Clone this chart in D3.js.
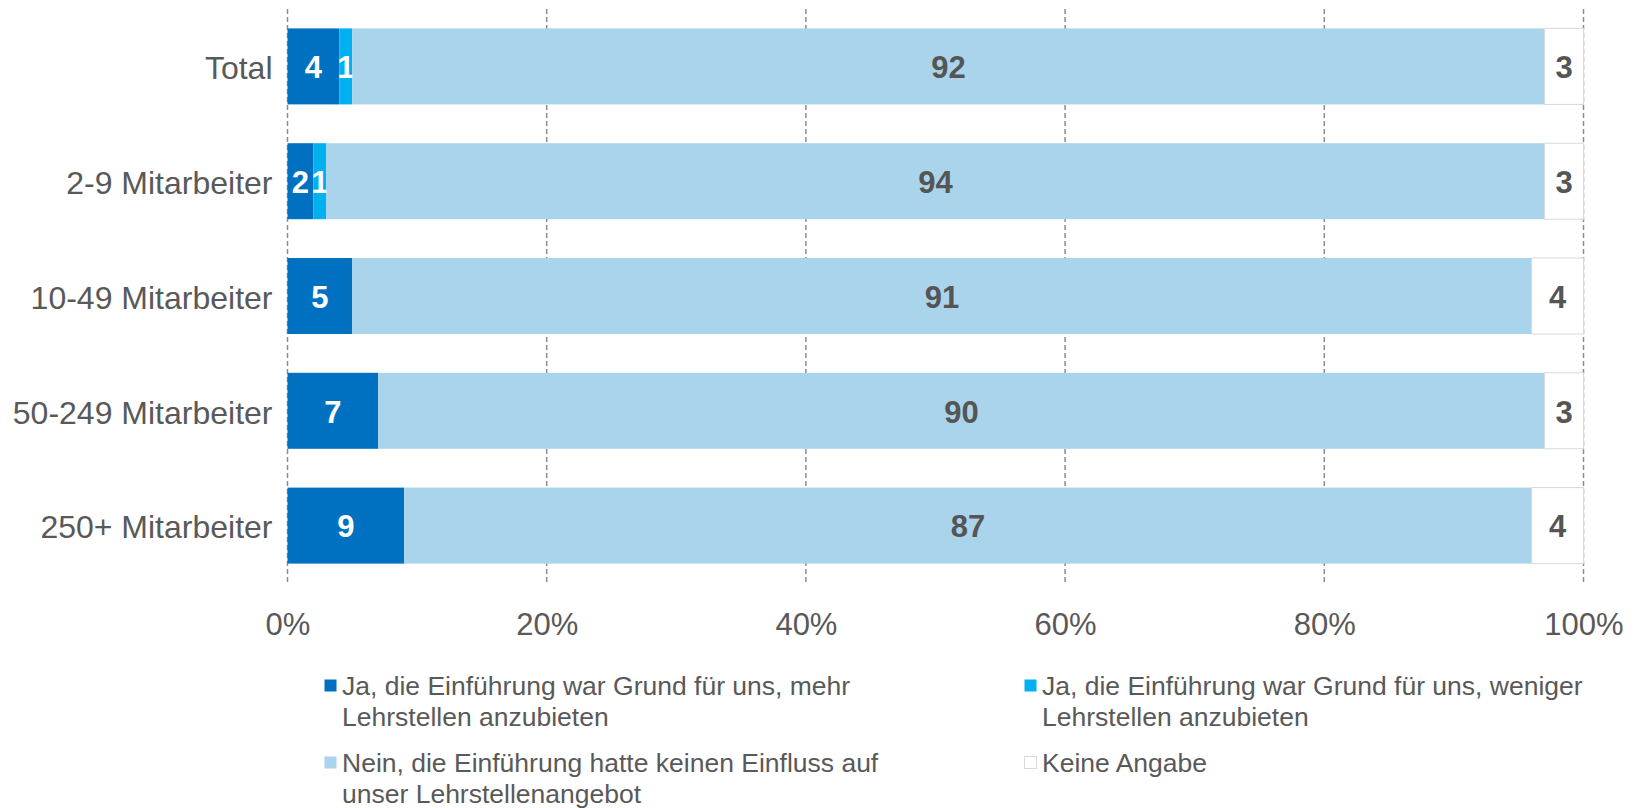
<!DOCTYPE html>
<html>
<head>
<meta charset="utf-8">
<script src="https://cdn.jsdelivr.net/npm/d3@7"></script>
<style>
  body { margin: 0; background: #fff; }
  svg { display: block; font-family: "Liberation Sans", Arial, sans-serif; }
</style>
</head>
<body>
<svg id="chart" width="1637" height="808"></svg>
<script>
var categories = ["Total", "2-9 Mitarbeiter", "10-49 Mitarbeiter", "50-249 Mitarbeiter", "250+ Mitarbeiter"];
var mehr    = [4, 2, 5, 7, 9];
var weniger = [1, 1, 0, 0, 0];
var nein    = [92, 94, 91, 90, 87];
var keine   = [3, 3, 4, 3, 4];
var tickValues = [0, 20, 40, 60, 80, 100];
var seriesNames = ["mehr", "weniger", "nein", "keine"];
var legendLines = [
  ["Ja, die Einführung war Grund für uns, mehr", "Lehrstellen anzubieten"],
  ["Ja, die Einführung war Grund für uns, weniger", "Lehrstellen anzubieten"],
  ["Nein, die Einführung hatte keinen Einfluss auf", "unser Lehrstellenangebot"],
  ["Keine Angabe"]
];

var colors = { mehr: "#0070c0", weniger: "#00b0f0", nein: "#a9d4eb", keine: "#ffffff" };
var labelColors = { mehr: "#ffffff", weniger: "#ffffff", nein: "#555555", keine: "#555555" };
var textColor = "#595959";

var rows = categories.map(function(c, i) {
  return { cat: c, mehr: mehr[i], weniger: weniger[i], nein: nein[i], keine: keine[i] };
});

var svg = d3.select("#chart");
var x = d3.scaleLinear().domain([0, 100]).range([287.5, 1583.5]);
var y = d3.scaleBand().domain(categories).range([9, 583])
    .paddingInner(0.338).paddingOuter(0.169);

// dashed grid lines
svg.append("g")
  .selectAll("line")
  .data(tickValues)
  .join("line")
    .attr("x1", function(d) { return x(d); })
    .attr("x2", function(d) { return x(d); })
    .attr("y1", 9)
    .attr("y2", 583)
    .attr("stroke", "#8c8c8c")
    .attr("stroke-width", 1.5)
    .attr("stroke-dasharray", "5,3");

var stack = d3.stack().keys(seriesNames)(rows);

var layer = svg.append("g")
  .selectAll("g")
  .data(stack)
  .join("g");

layer.selectAll("rect")
  .data(function(s) { return s.map(function(d) { return { key: s.key, d: d }; }); })
  .join("rect")
    .attr("x", function(p) { return x(p.d[0]); })
    .attr("y", function(p) { return y(p.d.data.cat); })
    .attr("width", function(p) { return x(p.d[1]) - x(p.d[0]); })
    .attr("height", y.bandwidth())
    .attr("fill", function(p) { return colors[p.key]; })
    .attr("stroke", function(p) { return p.key == "keine" ? "#d9d9d9" : "none"; })
    .attr("stroke-width", 1);

layer.selectAll("text")
  .data(function(s) { return s.map(function(d) { return { key: s.key, d: d }; }).filter(function(p) { return p.d[1] - p.d[0] > 0; }); })
  .join("text")
    .attr("x", function(p) { return (x(p.d[0]) + x(p.d[1])) / 2; })
    .attr("y", function(p) { return y(p.d.data.cat) + y.bandwidth() / 2; })
    .attr("dy", "0.38em")
    .attr("text-anchor", "middle")
    .attr("font-size", "31px")
    .attr("font-weight", "bold")
    .attr("fill", function(p) { return labelColors[p.key]; })
    .text(function(p) { return p.d[1] - p.d[0]; });

// category axis
var yAxis = svg.append("g")
  .attr("transform", "translate(" + x(0) + ",0)")
  .call(d3.axisLeft(y).tickSize(0).tickPadding(15));
yAxis.select(".domain").remove();
yAxis.selectAll("text")
  .attr("font-size", "32px")
  .attr("dy", "0.4em")
  .attr("font-family", "Liberation Sans, Arial, sans-serif")
  .attr("fill", textColor);

// percent axis
var xAxis = svg.append("g")
  .attr("transform", "translate(0,583)")
  .call(d3.axisBottom(x).tickValues(tickValues).tickSize(0).tickPadding(30)
          .tickFormat(function(d) { return d + "%"; }));
xAxis.select(".domain").remove();
xAxis.selectAll("text")
  .attr("font-size", "31px")
  .attr("font-family", "Liberation Sans, Arial, sans-serif")
  .attr("fill", textColor);

// legend
var legendPos = [[324, 686], [1024, 686], [324, 763], [1024, 763]];
var legend = svg.append("g")
  .selectAll("g")
  .data(seriesNames)
  .join("g")
    .attr("transform", function(d, i) { return "translate(" + legendPos[i][0] + "," + legendPos[i][1] + ")"; });

legend.append("rect")
  .attr("x", 0.5)
  .attr("y", -6.5)
  .attr("width", 12)
  .attr("height", 12)
  .attr("fill", function(d) { return colors[d]; })
  .attr("stroke", function(d) { return d == "keine" ? "#d9d9d9" : "none"; });

legend.append("text")
  .attr("x", 18)
  .attr("y", 0)
  .attr("font-size", "26.5px")
  .attr("fill", textColor)
  .selectAll("tspan")
  .data(function(d, i) { return legendLines[i]; })
  .join("tspan")
    .attr("x", 18)
    .attr("dy", function(d, j) { return j == 0 ? "0.35em" : "31px"; })
    .text(function(d) { return d; });
</script>
</body>
</html>
